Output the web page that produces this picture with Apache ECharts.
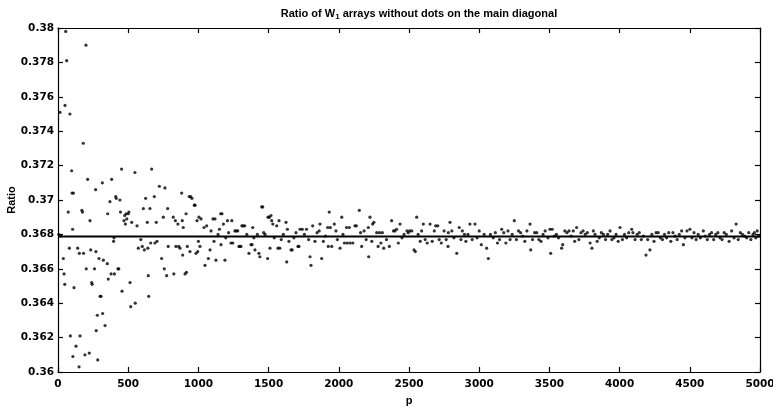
<!DOCTYPE html>
<html>
<head>
<meta charset="utf-8">
<script src="https://cdn.jsdelivr.net/npm/echarts@6/dist/echarts.min.js"></script>
<style>html,body{margin:0;padding:0;background:#fff}#c{width:773px;height:410px}</style>
</head>
<body>
<div id="c"></div>
<script>
// ---- data ----
const xTicks = [0,500,1000,1500,2000,2500,3000,3500,4000,4500,5000];
const yTicks = [0.36,0.362,0.364,0.366,0.368,0.37,0.372,0.374,0.376,0.378,0.38];
const limitValue = [0.367879];

const earlyPoints = [
[5,0.3680],[14,0.3751],[20,0.3679],[38,0.3666],[43,0.3657],[48,0.3651],[50,0.3755],[55,0.3798],[62,0.3781],[73,0.3693],[81,0.3672],[85,0.3750],[88,0.3621],[97,0.3717],[100,0.3704],[104,0.3683],[106,0.3609],[110,0.3704],[114,0.3649],[128,0.3615],[140,0.3672],[150,0.3603],[152,0.3669],[157,0.3621],[170,0.3694],[174,0.3693],[180,0.3733],[182,0.3669],[192,0.3610],[199,0.3790],[201,0.3660],[211,0.3712],[223,0.3611],[228,0.3688],[233,0.3671],[240,0.3652],[243,0.3651],[260,0.3660],[268,0.3706],[270,0.3670],[272,0.3624],[280,0.3633],[283,0.3607],[292,0.3666],[300,0.3644],[306,0.3644],[316,0.3710],[318,0.3634],[323,0.3665],[335,0.3627],[351,0.3663],[354,0.3692],[358,0.3654],[370,0.3699],[378,0.3657],[382,0.3712],[396,0.3676],[399,0.3678],[402,0.3657],[411,0.3702],[415,0.3701],[427,0.3660],[433,0.3660],[441,0.3700],[445,0.3693],[453,0.3718],[456,0.3647],[470,0.3688],[475,0.3691],[480,0.3686],[485,0.3692],[490,0.3689],[500,0.3692],[505,0.3693],[513,0.3652],[518,0.3638],[525,0.3687],[548,0.3716],[550,0.3640],[563,0.3685],[572,0.3672],[590,0.3677],[600,0.3673],[608,0.3695],[615,0.3671],[624,0.3701],[636,0.3687],[640,0.3672],[643,0.3656],[646,0.3644],[655,0.3695],[660,0.3675],[667,0.3718],[686,0.3702],[690,0.3675],[700,0.3687],[705,0.3676],[722,0.3708],[738,0.3666],[750,0.3690],[757,0.3660],[762,0.3707],[774,0.3656],[781,0.3695],[785,0.3673],[821,0.3690],[825,0.3657],[836,0.3688],[840,0.3673],[854,0.3686],[860,0.3673],[869,0.3672],[881,0.3704],[885,0.3688],[888,0.3668],[892,0.3684],[905,0.3657],[912,0.3692],[915,0.3658],[921,0.3673],[935,0.3702],[940,0.3670],[945,0.3702],[954,0.3701],[971,0.3697],[976,0.3697],[983,0.3669],[990,0.3688],[995,0.3670]
];

const midPoints = [
[1000,0.3676],[1004,0.3690],[1011,0.3673],[1019,0.3689],[1040,0.3684],[1047,0.3662],[1059,0.3685],[1071,0.3666],[1083,0.3671],[1090,0.3682],[1104,0.3689],[1111,0.3676],[1118,0.3689],[1125,0.3665],[1140,0.3680],[1150,0.3683],[1159,0.3692],[1161,0.3674],[1168,0.3692],[1178,0.3686],[1189,0.3665],[1195,0.3678],[1207,0.3688],[1215,0.3681],[1232,0.3675],[1238,0.3688],[1245,0.3675],[1260,0.3682],[1270,0.3682],[1280,0.3682],[1289,0.3673],[1296,0.3673],[1303,0.3673],[1310,0.3685],[1318,0.3685],[1330,0.3685],[1345,0.3680],[1360,0.3669],[1375,0.3674],[1382,0.3674],[1387,0.3684],[1395,0.3678],[1403,0.3671],[1420,0.3680],[1431,0.3669],[1438,0.3667],[1451,0.3696],[1458,0.3696],[1465,0.3681],[1475,0.3680],[1493,0.3666],[1496,0.3690],[1505,0.3690],[1510,0.3672],[1517,0.3691],[1522,0.3688],[1530,0.3686],[1540,0.3678],[1558,0.3685],[1567,0.3672],[1574,0.3688],[1580,0.3672],[1590,0.3677],[1605,0.3680],[1624,0.3687],[1629,0.3664],[1634,0.3683],[1645,0.3676],[1660,0.3671],[1668,0.3671],[1680,0.3678],[1695,0.3681],[1709,0.3673],[1716,0.3673],[1724,0.3683],[1740,0.3683],[1755,0.3680],[1770,0.3683],[1785,0.3677],[1795,0.3667],[1802,0.3662],[1814,0.3685],[1830,0.3676],[1845,0.3681],[1860,0.3682],[1866,0.3686],[1878,0.3666],[1890,0.3676],[1905,0.3679],[1921,0.3684],[1925,0.3673],[1932,0.3693],[1940,0.3684],[1950,0.3673],[1968,0.3686],[1980,0.3682],[1990,0.3677],[2009,0.3672],[2021,0.3690],[2030,0.3680],[2040,0.3675],[2055,0.3684],[2060,0.3675],[2075,0.3684],[2080,0.3675],[2100,0.3675],[2115,0.3685],[2125,0.3685],[2146,0.3694],[2155,0.3681],[2163,0.3673],[2180,0.3682],[2195,0.3677],[2210,0.3684],[2213,0.3667],[2222,0.3690],[2235,0.3676],[2241,0.3686]
];

const latePoints = [
[2250,0.3687],[2270,0.3681],[2280,0.3673],[2290,0.3681],[2300,0.3675],[2310,0.3681],[2320,0.3672],[2340,0.3677],[2360,0.3673],[2376,0.3688],[2390,0.3682],[2400,0.3682],[2412,0.3683],[2424,0.3675],[2436,0.3686],[2450,0.3678],[2465,0.3680],[2486,0.3682],[2495,0.3681],[2505,0.3682],[2520,0.3682],[2536,0.3671],[2545,0.3670],[2555,0.3690],[2565,0.3680],[2580,0.3676],[2590,0.3682],[2602,0.3686],[2615,0.3677],[2630,0.3675],[2650,0.3686],[2665,0.3676],[2680,0.3682],[2690,0.3685],[2705,0.3685],[2715,0.3677],[2730,0.3675],[2750,0.3682],[2765,0.3677],[2778,0.3673],[2780,0.3681],[2792,0.3687],[2805,0.3682],[2820,0.3678],[2840,0.3669],[2858,0.3684],[2870,0.3677],[2880,0.3682],[2895,0.3680],[2905,0.3676],[2920,0.3680],[2934,0.3686],[2950,0.3677],[2970,0.3686],[2985,0.3678],[3000,0.3682],[3015,0.3674],[3035,0.3680],[3053,0.3672],[3065,0.3666],[3080,0.3680],[3100,0.3678],[3115,0.3681],[3130,0.3675],[3145,0.3677],[3160,0.3683],[3175,0.3681],[3190,0.3675],[3205,0.3682],[3220,0.3677],[3235,0.3680],[3250,0.3688],[3265,0.3677],[3280,0.3682],[3295,0.3681],[3310,0.3679],[3325,0.3676],[3340,0.3682],[3362,0.3686],[3367,0.3671],[3380,0.3677],[3395,0.3681],[3410,0.3681],[3425,0.3677],[3440,0.3676],[3455,0.3680],[3470,0.3682],[3490,0.3678],[3504,0.3683],[3509,0.3669],[3520,0.3683],[3535,0.3679],[3550,0.3680],[3565,0.3678],[3587,0.3672],[3595,0.3674],[3610,0.3682],[3625,0.3681],[3640,0.3682],[3655,0.3679],[3670,0.3682],[3680,0.3676],[3694,0.3684],[3710,0.3677],[3725,0.3681],[3740,0.3682],[3755,0.3680],[3770,0.3681],[3790,0.3675],[3803,0.3672],[3813,0.3682],[3825,0.3680],[3840,0.3676],[3855,0.3678],[3870,0.3681],[3885,0.3680],[3900,0.3677],[3915,0.3680],[3932,0.3682],[3945,0.3677],[3960,0.3678],[3975,0.3680],[3990,0.3676],[4003,0.3684],[4020,0.3677],[4035,0.3680],[4050,0.3678],[4065,0.3681],[4086,0.3683],[4095,0.3681],[4110,0.3677],[4125,0.3680],[4140,0.3681],[4155,0.3677],[4170,0.3679],[4188,0.3668],[4200,0.3677],[4216,0.3671],[4230,0.3680],[4245,0.3676],[4260,0.3681],[4275,0.3681],[4290,0.3678],[4305,0.3677],[4320,0.3680],[4335,0.3678],[4350,0.3681],[4365,0.3676],[4380,0.3681],[4395,0.3679],[4410,0.3677],[4425,0.3680],[4442,0.3682],[4454,0.3674],[4465,0.3678],[4480,0.3682],[4501,0.3683],[4515,0.3678],[4530,0.3681],[4545,0.3677],[4560,0.3680],[4575,0.3678],[4596,0.3682],[4610,0.3679],[4625,0.3677],[4640,0.3680],[4655,0.3681],[4670,0.3677],[4685,0.3680],[4700,0.3681],[4715,0.3678],[4730,0.3677],[4745,0.3681],[4760,0.3680],[4780,0.3676],[4798,0.3682],[4815,0.3678],[4830,0.3686],[4845,0.3677],[4860,0.3681],[4875,0.3680],[4890,0.3679],[4905,0.3678],[4920,0.3681],[4935,0.3677],[4950,0.3680],[4960,0.3681],[4970,0.3678],[4980,0.3682],[4990,0.3679]
];

// ---- chart ----
const allPoints = earlyPoints.concat(midPoints, latePoints);
const xMin = xTicks[0], xMax = xTicks[xTicks.length - 1];
const yMin = yTicks[0], yMax = yTicks[yTicks.length - 1];
const limitLine = [[xMin, limitValue[0]], [xMax, limitValue[0]]];

const labelFont = { color: '#000', fontFamily: 'DejaVu Sans', fontWeight: 'bold', fontSize: 10.5 };
const axisBase = {
  axisLine: { show: true, onZero: false, lineStyle: { color: '#000', width: 1.2 } },
  axisTick: { show: true, inside: true, length: 5, lineStyle: { color: '#000', width: 1.2 } },
  splitLine: { show: false }
};

const chart = echarts.init(document.getElementById('c'), null, { renderer: 'canvas' });
chart.setOption({
  animation: false,
  backgroundColor: '#fff',
  title: {
    text: '{a|Ratio of W}{s|1}{a| arrays without dots on the main diagonal}',
    left: 414, top: 2, textAlign: 'center',
    textStyle: {
      rich: {
        a: { fontFamily: 'Liberation Sans', fontWeight: 'bold', fontSize: 11, color: '#000' },
        s: { fontFamily: 'Liberation Sans', fontWeight: 'bold', fontSize: 8, color: '#000', verticalAlign: 'bottom', padding: [6, 0, 0, 0] }
      }
    }
  },
  grid: { left: 58, right: 13, top: 28, bottom: 38, containLabel: false, outerBoundsMode: 'none' },
  xAxis: [
    Object.assign({}, axisBase, {
      type: 'value', min: xMin, max: xMax, interval: 500, position: 'bottom',
      name: 'p', nameLocation: 'middle', nameGap: 23, nameMoveOverlap: false,
      nameTextStyle: { color: '#000', fontFamily: 'Liberation Sans', fontWeight: 'bold', fontSize: 11 },
      axisLabel: Object.assign({ margin: 7, formatter: v => String(v) }, labelFont)
    }),
    Object.assign({}, axisBase, {
      type: 'value', min: xMin, max: xMax, interval: 500, position: 'top',
      axisLabel: { show: false }
    })
  ],
  yAxis: [
    Object.assign({}, axisBase, {
      type: 'value', min: yMin, max: yMax, interval: 0.002, position: 'left',
      name: 'Ratio', nameLocation: 'middle', nameGap: 41, nameMoveOverlap: false,
      nameTextStyle: { color: '#000', fontFamily: 'Liberation Sans', fontWeight: 'bold', fontSize: 11 },
      axisLabel: Object.assign({ margin: 4, formatter: v => String(parseFloat(v.toFixed(3))) }, labelFont)
    }),
    Object.assign({}, axisBase, {
      type: 'value', min: yMin, max: yMax, interval: 0.002, position: 'right',
      axisLabel: { show: false }
    })
  ],
  series: [
    {
      type: 'scatter', xAxisIndex: 0, yAxisIndex: 0,
      data: allPoints, symbol: 'circle', symbolSize: 3.2,
      itemStyle: { color: '#000' }, silent: true
    },
    {
      type: 'line', xAxisIndex: 0, yAxisIndex: 0,
      data: limitLine, symbol: 'none',
      lineStyle: { color: '#000', width: 2 }, silent: true, z: 3
    }
  ]
});
</script>
</body>
</html>
